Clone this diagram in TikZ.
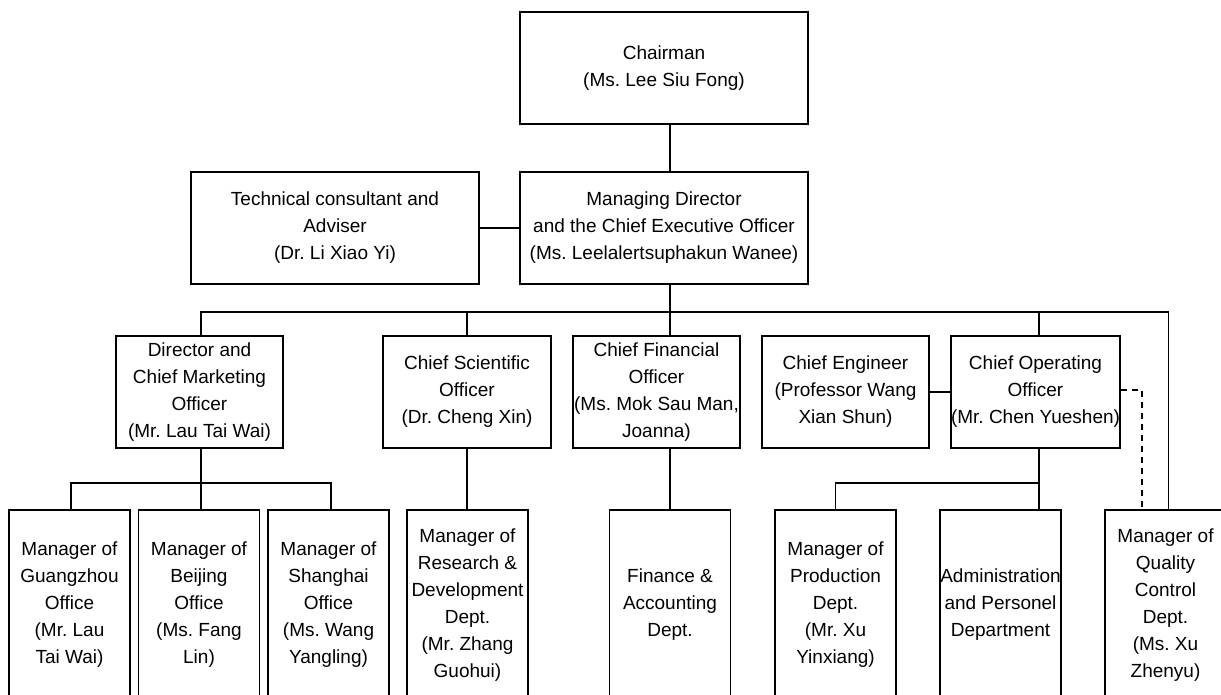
\documentclass[tikz,border=0pt]{standalone}
\usepackage{fontspec}
\setmainfont{Liberation Sans}
\usepackage{tikz}
\usetikzlibrary{calc}
\frenchspacing
\tikzset{box/.style = {draw, line width=1.3pt, align=center, inner sep=0pt,
                       font=\fontsize{19}{27}\selectfont}}
\tikzset{top/.style = {box, minimum width=288pt, minimum height=112pt}}
\tikzset{mid/.style = {box, minimum width=167pt, minimum height=112pt}}
\tikzset{low/.style = {box, minimum width=121pt, minimum height=190pt}}
\tikzset{link/.style = {line width=1.3pt}}

\begin{document}
\begin{tikzpicture}[x=1pt, y=-1pt]
    \useasboundingbox (0, 0) rectangle (1221, 694);
    \clip (0, 0) rectangle (1221, 694);

    % top level
    \node [top] (chair) at (664, 68) {Chairman\\(Ms. Lee Siu Fong)};
    \node [top] (md) at (664, 228) {Managing Director\\and the Chief Executive Officer\\(Ms. Leelalertsuphakun Wanee)};
    \node [top] (tech) at (335, 228) {Technical consultant and\\Adviser\\(Dr. Li Xiao Yi)};

    % officers
    \node [mid] (cmo) at (199.5, 392) {Director and\\Chief Marketing\\Officer\\(Mr. Lau Tai Wai)};
    \node [mid, minimum width=168pt] (cso) at (467, 392) {Chief Scientific\\Officer\\(Dr. Cheng Xin)};
    \node [mid] (cfo) at (656.5, 392) {Chief Financial\\Officer\\(Ms. Mok Sau Man,\\Joanna)};
    \node [mid] (ceng) at (845.5, 392) {Chief Engineer\\(Professor Wang\\Xian Shun)};
    \node [mid] (coo) at (1035.5, 392) {Chief Operating\\Officer\\(Mr. Chen Yueshen)};

    % managers and departments
    \node [low] (gz) at (69.5, 605) {Manager of\\Guangzhou\\Office\\(Mr. Lau\\Tai Wai)};
    \node [low] (bj) at (199, 605) {Manager of\\Beijing\\Office\\(Ms. Fang\\Lin)};
    \node [low] (sh) at (328.5, 605) {Manager of\\Shanghai\\Office\\(Ms. Wang\\Yangling)};
    \node [low] (rd) at (467.5, 605) {Manager of\\Research \&\\Development\\Dept.\\(Mr. Zhang\\Guohui)};
    \node [low] (fin) at (670, 605) {Finance \&\\Accounting\\Dept.};
    \node [low] (prod) at (835.5, 605) {Manager of\\Production\\Dept.\\(Mr. Xu\\Yinxiang)};
    \node [low] (adm) at (1000.5, 605) {Administration\\and Personel\\Department};
    \node [low] (qc) at (1165.5, 605) {Manager of\\Quality\\Control\\Dept.\\(Ms. Xu\\Zhenyu)};

    % junctions
    \coordinate (j) at (670, 312);
    \coordinate (jc) at (201, 483);
    \coordinate (jo) at (1039, 483);
    \coordinate (jd) at (1142, 390);

    \draw [link] (chair.south -| j) -- (md.north -| j);
    \draw [link] (tech) -- (md);
    \draw [link] (md.south -| j) -- (j);
    \draw [link] (cmo.north -| jc) |- (j) -| (cso.north);
    \draw [link] (j) -- (cfo.north -| j);
    \draw [link] (j) -| (coo.north -| jo);
    \draw [link] (j) -| ($(qc.north west)+(64, 0)$);
    \draw [link] (ceng) -- (coo);

    \draw [link] (cmo.south -| jc) -- (bj.north -| jc);
    \draw [link] (gz.north -| 71, 0) |- (jc) -| (sh.north -| 331, 0);
    \draw [link] (cso.south) -- (rd.north -| cso.south);
    \draw [link] (cfo.south -| j) -- (fin.north);

    \draw [link] (coo.south -| jo) -- (adm.north -| jo);
    \draw [link] (jo) -| (prod.north);
    \draw [link, dashed, dash pattern=on 6pt off 5pt] (coo.east |- jd) -- (jd) -- (qc.north -| jd);
\end{tikzpicture}
\end{document}
